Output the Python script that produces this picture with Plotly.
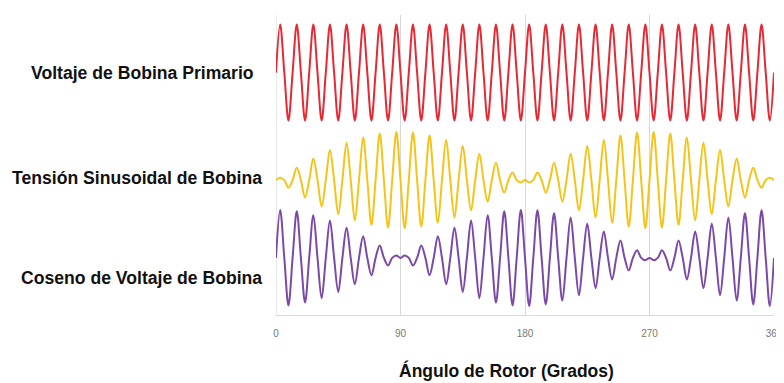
import plotly.graph_objects as go

# Sample angles (degrees): zero crossings and extremes of the carrier, every quarter period
ANGLES = [3 * i for i in range(121)]
TICKS = [0, 90, 180, 270, 360]
TICK_LABELS = ["0", "90", "180", "270", "360"]

# Height of each carrier half-cycle extreme, 60 per series
red_env = [1.0] * 60
yellow_env = [0.05, 0.16, 0.26, 0.36, 0.45, 0.55, 0.63, 0.71, 0.78, 0.84,
              0.89, 0.93, 0.97, 0.99, 1.00, 1.00, 0.99, 0.97, 0.93, 0.89,
              0.84, 0.78, 0.71, 0.63, 0.55, 0.45, 0.36, 0.26, 0.16, 0.05,
              -0.05, -0.16, -0.26, -0.36, -0.45, -0.55, -0.63, -0.71, -0.78, -0.84,
              -0.89, -0.93, -0.97, -0.99, -1.00, -1.00, -0.99, -0.97, -0.93, -0.89,
              -0.84, -0.78, -0.71, -0.63, -0.55, -0.45, -0.36, -0.26, -0.16, -0.05]
purple_env = [1.00, 0.99, 0.97, 0.93, 0.89, 0.84, 0.78, 0.71, 0.63, 0.55,
              0.45, 0.36, 0.26, 0.16, 0.05, -0.05, -0.16, -0.26, -0.36, -0.45,
              -0.55, -0.63, -0.71, -0.78, -0.84, -0.89, -0.93, -0.97, -0.99, -1.00,
              -1.00, -0.99, -0.97, -0.93, -0.89, -0.84, -0.78, -0.71, -0.63, -0.55,
              -0.45, -0.36, -0.26, -0.16, -0.05, 0.05, 0.16, 0.26, 0.36, 0.45,
              0.55, 0.63, 0.71, 0.78, 0.84, 0.89, 0.93, 0.97, 0.99, 1.00]

SERIES_NAMES = ["Voltaje de Bobina Primario", "Tensión Sinusoidal de Bobina",
                "Coseno de Voltaje de Bobina"]


def samples(env):
    out = [0.0]
    for k, a in enumerate(env):
        out.append(a if k % 2 == 0 else -a)
        out.append(0.0)
    return out


red = samples(red_env)
yellow = samples(yellow_env)
purple = samples(purple_env)

fig = go.Figure()
colors = ["#e62a35", "#f4c41a", "#7a4aa6"]
axes = ["y", "y2", "y3"]
for vals, col, ax, name in zip([red, yellow, purple], colors, axes, SERIES_NAMES):
    fig.add_trace(go.Scatter(x=ANGLES, y=vals, mode="lines", name=name, yaxis=ax,
                             line=dict(color=col, width=2, shape="spline", smoothing=1.0),
                             showlegend=False, hoverinfo="skip"))

common_y = dict(showgrid=False, zeroline=False, showticklabels=False, fixedrange=True,
                automargin=False)
# page has an 8px body margin, so the figure is 776x375 and offset by 8px
fig.update_layout(
    width=776, height=375,
    margin=dict(l=268, r=10, t=7, b=68, autoexpand=False),
    paper_bgcolor="white", plot_bgcolor="white",
    xaxis=dict(range=[0, 360], tickvals=TICKS, ticktext=TICK_LABELS, automargin=False,
               showgrid=True, gridcolor="#d8d8d8", gridwidth=1,
               zeroline=False, showline=True, linecolor="#d8d8d8", linewidth=1,
               ticks="", ticklen=0, ticklabelstandoff=9,
               tickfont=dict(family="Liberation Sans", size=10, color="#777"),
               mirror=False),
    yaxis=dict(range=[-5.05, 1.2], **common_y),
    yaxis2=dict(range=[-2.81, 3.44], overlaying="y", **common_y),
    yaxis3=dict(range=[-1.19, 5.06], overlaying="y", **common_y),
)

# left border line
fig.add_shape(type="line", xref="x", yref="paper", x0=0, x1=0, y0=0, y1=1,
              line=dict(color="#d8d8d8", width=1), layer="below")

label_y = [0.807, 0.457, 0.123]
label_cx = [142, 137, 141.5]
for name, yy, cx in zip(SERIES_NAMES, label_y, label_cx):
    fig.add_annotation(text="<b>" + name + "</b>", xref="paper", yref="paper",
                       x=(cx - 276) / 498, y=yy, xanchor="center", yanchor="middle",
                       showarrow=False,
                       font=dict(family="Liberation Sans", size=17.6, color="#111"))

fig.add_annotation(text="<b>Ángulo de Rotor (Grados)</b>", xref="paper", yref="paper",
                   x=(506 - 276) / 498, y=-(370 - 315) / 300, xanchor="center", yanchor="middle",
                   showarrow=False, font=dict(family="Liberation Sans", size=17.5, color="#111"))

fig.write_html("out.html")
